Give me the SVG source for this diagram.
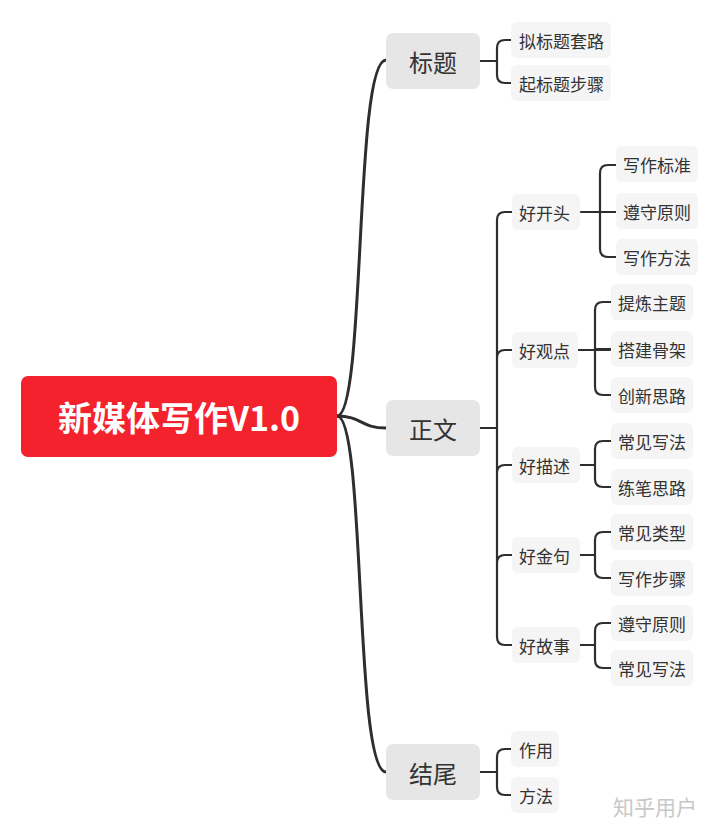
<svg xmlns="http://www.w3.org/2000/svg" width="720" height="833" viewBox="0 0 720 833">
<style>
text{font-family:"Noto Sans CJK SC","Noto Sans",sans-serif;fill:#333;dominant-baseline:central}
.l1{fill:#e6e6e6}
.l2{fill:#f5f5f5}
.t1{font-size:24px;text-anchor:middle}
.t2{font-size:17px}
.main{fill:none;stroke:#2e2e2e;stroke-width:3;stroke-linecap:round}
.br{fill:none;stroke:#2e2e2e;stroke-width:2.2;stroke-linecap:round;stroke-linejoin:round}
</style>
<rect width="720" height="833" fill="#fff"/>
<g id="connectors">
<path class="main" d="M337,416 C366,416 354,60 386,60"/>
<path class="main" d="M337,416 C362,416 360,428 386,428"/>
<path class="main" d="M337,416 C366,416 354,772 386,772"/>
<!-- 标题 -->
<path class="br" d="M480,61 H497 M511,40 H505 Q497,40 497,48 V75 Q497,83 505,83 H511"/>
<!-- 正文 -->
<path class="br" d="M480,428 H497 M512,212 H505 Q497,212 497,220 V637 Q497,645 505,645 H512 M497,358 Q497,350 505,350 H512 M497,473 Q497,465 505,465 H512 M497,563 Q497,555 505,555 H512"/>
<!-- 好开头 -->
<path class="br" d="M581,212 H613 M616,165 H608 Q600,165 600,173 V249 Q600,257 608,257 H616 M600,212 H616"/>
<!-- 好观点 -->
<path class="br" d="M578,350 H610 M611,302 H603 Q595,302 595,310 V387 Q595,395 603,395 H611 M595,349 H611"/>
<!-- 好描述 -->
<path class="br" d="M580,465 H595 M611,441 H603 Q595,441 595,449 V479 Q595,487 603,487 H611"/>
<!-- 好金句 -->
<path class="br" d="M580,555 H595 M611,532 H603 Q595,532 595,540 V570 Q595,578 603,578 H611"/>
<!-- 好故事 -->
<path class="br" d="M580,645 H595 M611,623 H603 Q595,623 595,631 V660 Q595,668 603,668 H611"/>
<!-- 结尾 -->
<path class="br" d="M480,772 H497 M511,749 H505 Q497,749 497,757 V787 Q497,795 505,795 H511"/>
</g>
<g id="root">
<rect x="21" y="376" width="316" height="81" rx="7" fill="#f4222d"/>
<text x="179" y="416" style="font-size:34px;font-weight:bold;fill:#fff;text-anchor:middle">新媒体写作V1.0</text>
</g>
<g id="n-biaoti"><rect class="l1" x="386" y="33" width="94" height="56" rx="7"/><text class="t1" x="433" y="61">标题</text></g>
<g id="n-zhengwen"><rect class="l1" x="386" y="400" width="94" height="56" rx="7"/><text class="t1" x="433" y="428">正文</text></g>
<g id="n-jiewei"><rect class="l1" x="386" y="744" width="94" height="56" rx="7"/><text class="t1" x="433" y="772">结尾</text></g>

<g id="n-nibiaoti"><rect class="l2" x="511" y="22" width="100" height="36" rx="6"/><text class="t2" x="519" y="40">拟标题套路</text></g>
<g id="n-qibiaoti"><rect class="l2" x="511" y="65" width="100" height="36" rx="6"/><text class="t2" x="519" y="83">起标题步骤</text></g>

<g id="n-haokaitou"><rect class="l2" x="512" y="194" width="68" height="36" rx="6"/><text class="t2" x="519" y="212">好开头</text></g>
<g id="n-haoguandian"><rect class="l2" x="512" y="332" width="66" height="36" rx="6"/><text class="t2" x="519" y="350">好观点</text></g>
<g id="n-haomiaoshu"><rect class="l2" x="512" y="447" width="68" height="36" rx="6"/><text class="t2" x="519" y="465">好描述</text></g>
<g id="n-haojinju"><rect class="l2" x="512" y="537" width="68" height="36" rx="6"/><text class="t2" x="519" y="555">好金句</text></g>
<g id="n-haogushi"><rect class="l2" x="512" y="627" width="68" height="36" rx="6"/><text class="t2" x="519" y="645">好故事</text></g>

<g id="n-xiezuobiaozhun"><rect class="l2" x="616" y="146" width="82" height="36" rx="6"/><text class="t2" x="623" y="164">写作标准</text></g>
<g id="n-zunshouyuanze1"><rect class="l2" x="616" y="193" width="82" height="36" rx="6"/><text class="t2" x="623" y="211">遵守原则</text></g>
<g id="n-xiezuofangfa"><rect class="l2" x="616" y="239" width="82" height="36" rx="6"/><text class="t2" x="623" y="257">写作方法</text></g>

<g id="n-tilian"><rect class="l2" x="611" y="284" width="82" height="36" rx="6"/><text class="t2" x="618" y="302">提炼主题</text></g>
<g id="n-dajian"><rect class="l2" x="611" y="331" width="82" height="36" rx="6"/><text class="t2" x="618" y="349">搭建骨架</text></g>
<g id="n-chuangxin"><rect class="l2" x="611" y="377" width="82" height="36" rx="6"/><text class="t2" x="618" y="395">创新思路</text></g>

<g id="n-changjianxiefa1"><rect class="l2" x="611" y="423" width="82" height="36" rx="6"/><text class="t2" x="618" y="441">常见写法</text></g>
<g id="n-lianbi"><rect class="l2" x="611" y="469" width="82" height="36" rx="6"/><text class="t2" x="618" y="487">练笔思路</text></g>

<g id="n-changjianleixing"><rect class="l2" x="611" y="514" width="82" height="36" rx="6"/><text class="t2" x="618" y="532">常见类型</text></g>
<g id="n-xiezuobuzhou"><rect class="l2" x="611" y="560" width="82" height="36" rx="6"/><text class="t2" x="618" y="578">写作步骤</text></g>

<g id="n-zunshouyuanze2"><rect class="l2" x="611" y="605" width="82" height="36" rx="6"/><text class="t2" x="618" y="623">遵守原则</text></g>
<g id="n-changjianxiefa2"><rect class="l2" x="611" y="650" width="82" height="36" rx="6"/><text class="t2" x="618" y="668">常见写法</text></g>

<g id="n-zuoyong"><rect class="l2" x="511" y="731" width="48" height="36" rx="6"/><text class="t2" x="519" y="749">作用</text></g>
<g id="n-fangfa"><rect class="l2" x="511" y="777" width="48" height="36" rx="6"/><text class="t2" x="519" y="795">方法</text></g>

<text x="613" y="806" style="font-size:21px;fill:#c8c8c8">知乎用户</text>
</svg>
